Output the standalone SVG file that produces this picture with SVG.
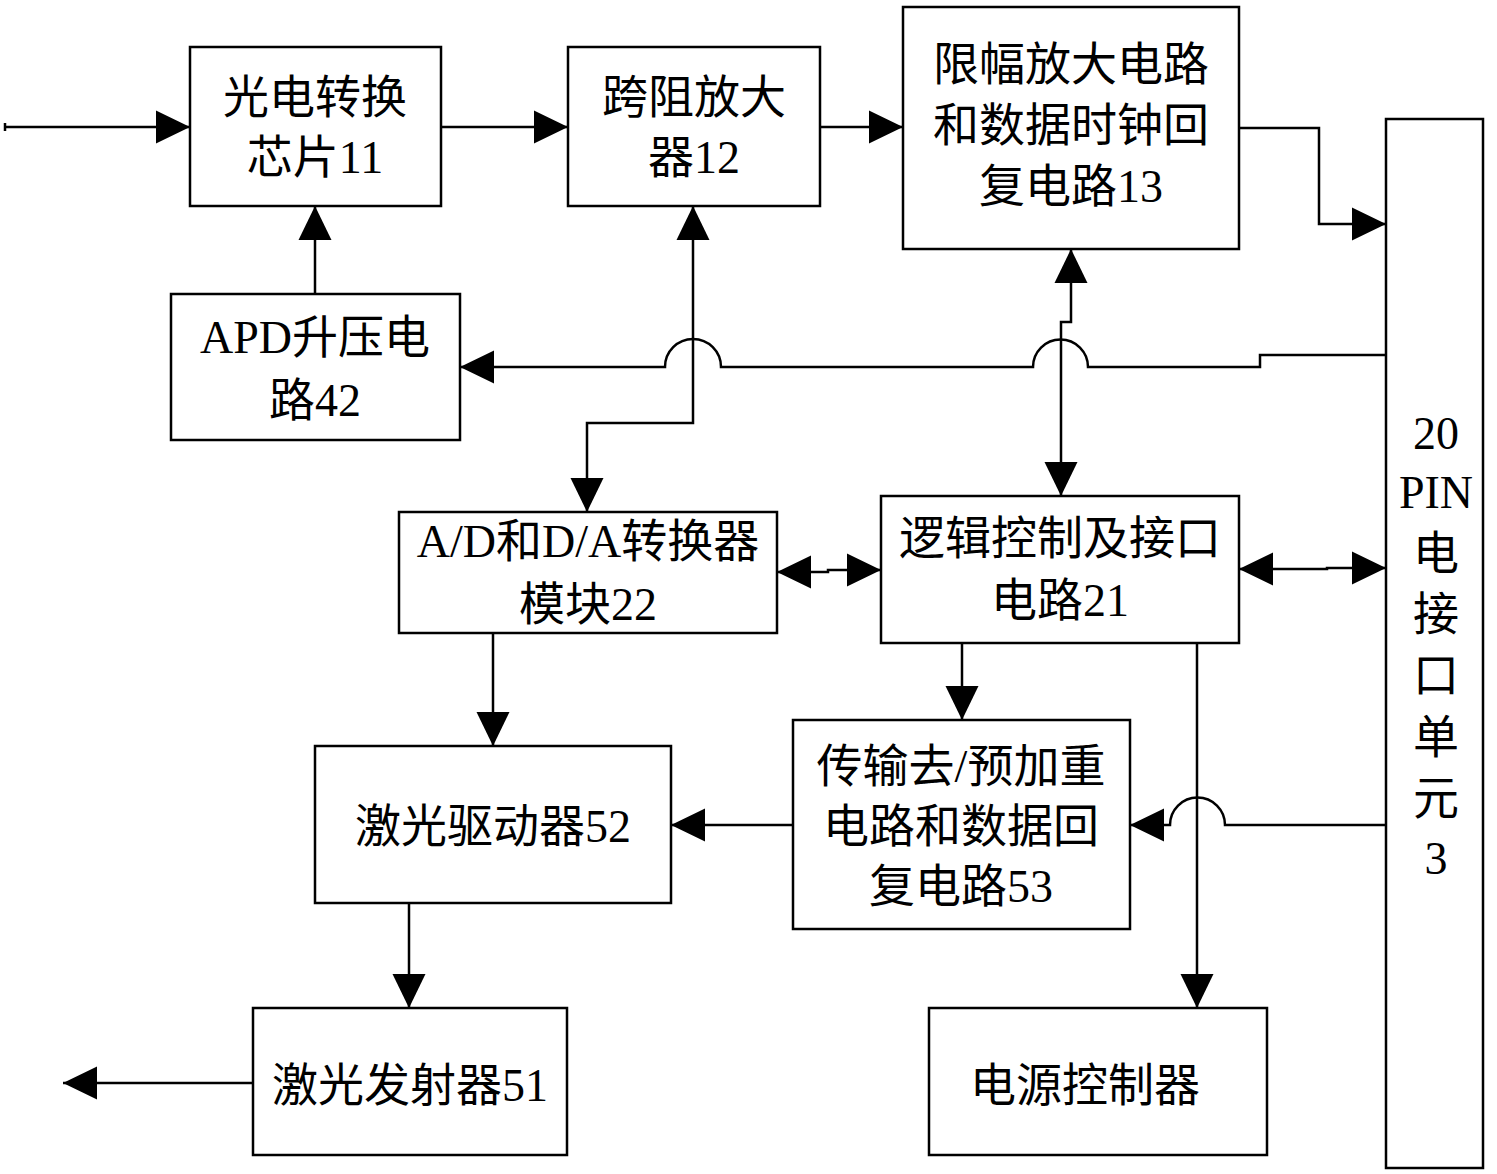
<svg xmlns="http://www.w3.org/2000/svg" width="1497" height="1174" viewBox="0 0 1497 1174">
<defs>
<style>
.box{fill:#fff;stroke:#000;stroke-width:2.5}
.ln{fill:none;stroke:#000;stroke-width:2.5}
.t{font-family:"Liberation Serif","Noto Sans CJK SC",serif;font-size:46px;text-anchor:middle;fill:#000}
</style>
<marker id="ah" markerUnits="userSpaceOnUse" markerWidth="34" markerHeight="34" viewBox="0 0 33 32" refX="33" refY="16" orient="auto-start-reverse">
<path d="M0,0 L33,16 L0,32 z" fill="#000"/>
</marker>
</defs>
<rect width="1497" height="1174" fill="#fff"/>

<g id="connectors">
<path class="ln" d="M5,127 H190" marker-end="url(#ah)"/>
<path class="ln" d="M5,123 V131"/>
<path class="ln" d="M441,127 H568" marker-end="url(#ah)"/>
<path class="ln" d="M820,127 H903" marker-end="url(#ah)"/>
<path class="ln" d="M1239,128 H1319 V224 H1386" marker-end="url(#ah)"/>
<path class="ln" d="M315,294 V206" marker-end="url(#ah)"/>
<path class="ln" d="M1386,355 H1260 V367 H1088 A27.5,27.5 0 0 0 1033,367 H721 A28,28 0 0 0 665,367 H460" marker-end="url(#ah)"/>
<path class="ln" d="M587,512 V423 H693 V206" marker-start="url(#ah)" marker-end="url(#ah)"/>
<path class="ln" d="M1071,249 V322 H1061 V496" marker-start="url(#ah)" marker-end="url(#ah)"/>
<path class="ln" d="M777,572 H828 V570 H881" marker-start="url(#ah)" marker-end="url(#ah)"/>
<path class="ln" d="M1239,569 H1327 V568 H1386" marker-start="url(#ah)" marker-end="url(#ah)"/>
<path class="ln" d="M962,643 V720" marker-end="url(#ah)"/>
<path class="ln" d="M493,633 V746" marker-end="url(#ah)"/>
<path class="ln" d="M1197,643 V1008" marker-end="url(#ah)"/>
<path class="ln" d="M1386,825 H1225 A27.5,27.5 0 0 0 1170,825 H1130" marker-end="url(#ah)"/>
<path class="ln" d="M793,825 H671" marker-end="url(#ah)"/>
<path class="ln" d="M409,903 V1008" marker-end="url(#ah)"/>
<path class="ln" d="M253,1083 H63" marker-end="url(#ah)"/>
</g>

<g id="n11"><rect class="box" x="190" y="47" width="251" height="159"/>
<text class="t" x="315" y="113">光电转换</text><text class="t" x="315" y="173">芯片11</text></g>

<g id="n12"><rect class="box" x="568" y="47" width="252" height="159"/>
<text class="t" x="694" y="113">跨阻放大</text><text class="t" x="694" y="173">器12</text></g>

<g id="n13"><rect class="box" x="903" y="7" width="336" height="242"/>
<text class="t" x="1071" y="80">限幅放大电路</text><text class="t" x="1071" y="141">和数据时钟回</text><text class="t" x="1071" y="202">复电路13</text></g>

<g id="n42"><rect class="box" x="171" y="294" width="289" height="146"/>
<text class="t" x="315" y="353">APD升压电</text><text class="t" x="315" y="416">路42</text></g>

<g id="n22"><rect class="box" x="399" y="512" width="378" height="121"/>
<text class="t" x="588" y="557">A/D和D/A转换器</text><text class="t" x="588" y="620">模块22</text></g>

<g id="n21"><rect class="box" x="881" y="496" width="358" height="147"/>
<text class="t" x="1060" y="554">逻辑控制及接口</text><text class="t" x="1060" y="616">电路21</text></g>

<g id="n53"><rect class="box" x="793" y="720" width="337" height="209"/>
<text class="t" x="961" y="782">传输去/预加重</text><text class="t" x="961" y="842">电路和数据回</text><text class="t" x="961" y="902">复电路53</text></g>

<g id="n52"><rect class="box" x="315" y="746" width="356" height="157"/>
<text class="t" x="493" y="842">激光驱动器52</text></g>

<g id="n51"><rect class="box" x="253" y="1008" width="314" height="147"/>
<text class="t" x="410" y="1101">激光发射器51</text></g>

<g id="npower"><rect class="box" x="929" y="1008" width="338" height="147"/>
<text class="t" x="1085" y="1101">电源控制器</text></g>

<g id="n3"><rect class="box" x="1386" y="119" width="97" height="1049"/>
<text class="t" x="1436" y="449">20</text><text class="t" x="1436" y="508">PIN</text><text class="t" x="1436" y="569">电</text><text class="t" x="1436" y="630">接</text><text class="t" x="1436" y="691">口</text><text class="t" x="1436" y="753">单</text><text class="t" x="1436" y="814">元</text><text class="t" x="1436" y="874">3</text></g>
</svg>
